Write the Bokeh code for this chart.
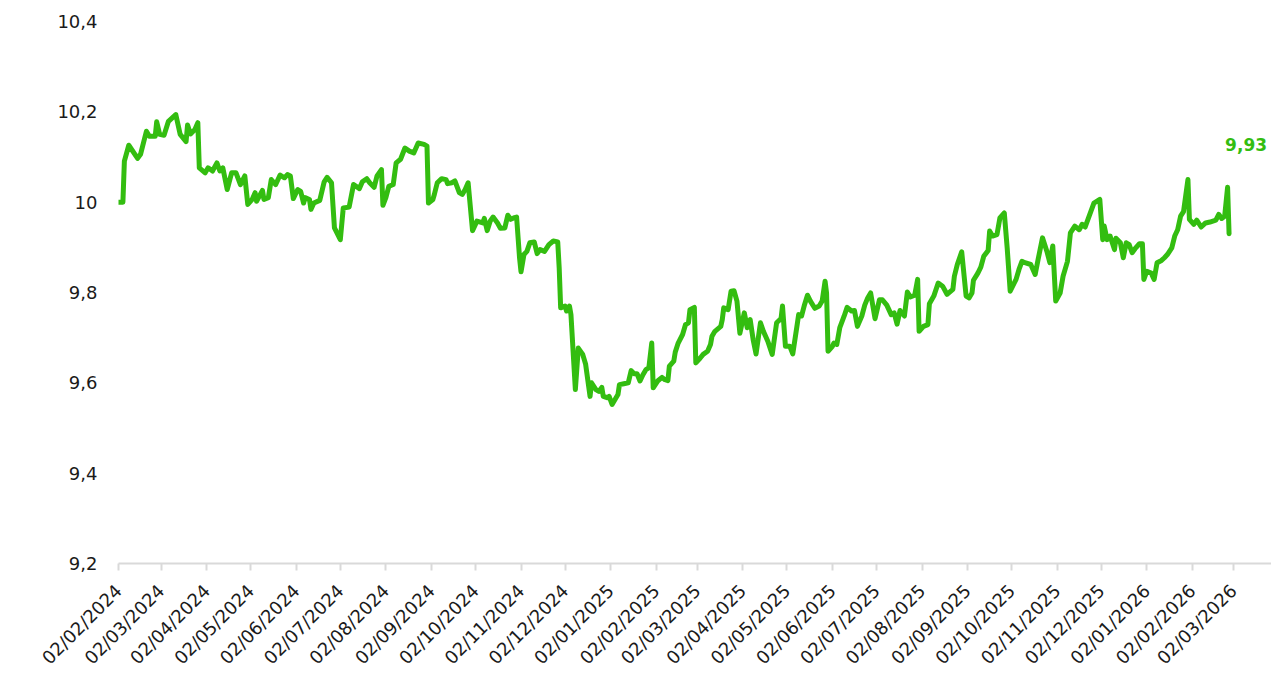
import math
from datetime import datetime, timedelta

from bokeh.plotting import figure
from bokeh.models import Range1d, FixedTicker
from bokeh.core.properties import value
from bokeh.embed import file_html
from bokeh.resources import INLINE

# ---------------- data ----------------
start_date = "2024-02-02"

day_offset = [
    0, 3, 4, 7, 13, 15, 19, 21, 25, 26, 28, 31, 34, 39, 42, 46, 47, 49, 52, 54,
    55, 59, 61, 64, 67, 69, 71, 74, 77, 80, 83, 86, 88, 91, 93, 94, 98, 99, 102, 104,
    107, 110, 113, 115, 117, 119, 122, 124, 126, 127, 130, 131, 133, 137, 140, 142, 145, 147, 151, 153,
    157, 160, 164, 166, 169, 171, 174, 176, 179, 180, 182, 184, 187, 189, 192, 195, 198, 201, 204, 208,
    210, 211, 214, 215, 217, 220, 223, 224, 227, 229, 232, 234, 236, 238, 241, 244, 248, 249, 251, 253,
    255, 258, 260, 263, 265, 267, 269, 271, 273, 274, 276, 278, 280, 283, 285, 287, 290, 293, 296, 299,
    300, 301, 304, 305, 307, 308, 311, 313, 316, 318, 321, 322, 325, 327, 329, 330, 333, 334, 336, 338,
    340, 341, 344, 347, 349, 351, 353, 355, 357, 359, 361, 363, 364, 367, 370, 372, 374, 375, 378, 379,
    381, 384, 386, 388, 389, 392, 393, 396, 398, 401, 403, 404, 406, 410, 411, 412, 415, 417, 419, 421,
    423, 426, 428, 430, 432, 434, 437, 439, 442, 445, 448, 451, 452, 454, 457, 459, 462, 463, 465, 467,
    469, 471, 474, 477, 479, 481, 482, 483, 486, 487, 489, 491, 494, 496, 499, 501, 503, 506, 508, 510,
    512, 515, 518, 520, 523, 526, 528, 530, 532, 535, 537, 539, 542, 544, 545, 548, 551, 552, 555, 558,
    561, 564, 568, 569, 571, 574, 577, 579, 581, 582, 585, 587, 589, 592, 593, 595, 598, 600, 603, 605,
    607, 611, 613, 615, 617, 621, 624, 626, 629, 632, 634, 636, 638, 641, 643, 646, 648, 651, 654, 656,
    658, 662, 664, 668, 670, 671, 673, 675, 678, 679, 682, 684, 686, 688, 690, 692, 695, 697, 698, 700,
    703, 705, 707, 710, 712, 714, 717, 719, 721, 723, 725, 728, 729, 732, 734, 737, 740, 743, 747, 749,
    751, 753, 755, 756,
]

nav = [
    10.000, 10.000, 10.091, 10.126, 10.097, 10.106, 10.157, 10.146, 10.146, 10.178, 10.150, 10.148, 10.179, 10.194, 10.150, 10.134, 10.171, 10.151, 10.161, 10.176,
    10.076, 10.065, 10.076, 10.069, 10.087, 10.069, 10.076, 10.028, 10.065, 10.065, 10.039, 10.058, 9.995, 10.006, 10.021, 10.002, 10.026, 10.006, 10.010, 10.050,
    10.039, 10.060, 10.054, 10.061, 10.058, 10.008, 10.028, 10.024, 9.998, 10.010, 10.006, 9.984, 9.998, 10.004, 10.045, 10.055, 10.043, 9.943, 9.917, 9.987,
    9.989, 10.039, 10.030, 10.045, 10.052, 10.043, 10.033, 10.058, 10.072, 9.993, 10.010, 10.035, 10.039, 10.087, 10.095, 10.120, 10.113, 10.109, 10.131, 10.128,
    10.124, 9.998, 10.006, 10.017, 10.043, 10.052, 10.050, 10.041, 10.043, 10.047, 10.021, 10.017, 10.028, 10.043, 9.937, 9.958, 9.954, 9.964, 9.937, 9.958,
    9.967, 9.954, 9.942, 9.943, 9.971, 9.962, 9.965, 9.967, 9.877, 9.846, 9.884, 9.891, 9.910, 9.912, 9.886, 9.895, 9.891, 9.906, 9.914, 9.912,
    9.854, 9.766, 9.770, 9.759, 9.770, 9.751, 9.585, 9.677, 9.663, 9.641, 9.570, 9.600, 9.585, 9.581, 9.590, 9.570, 9.567, 9.570, 9.552, 9.563,
    9.574, 9.596, 9.598, 9.600, 9.627, 9.620, 9.620, 9.604, 9.618, 9.629, 9.633, 9.688, 9.589, 9.604, 9.612, 9.607, 9.605, 9.637, 9.648, 9.668,
    9.688, 9.707, 9.729, 9.733, 9.762, 9.767, 9.644, 9.655, 9.663, 9.670, 9.685, 9.703, 9.714, 9.725, 9.740, 9.766, 9.762, 9.803, 9.804, 9.781,
    9.710, 9.755, 9.722, 9.740, 9.696, 9.664, 9.733, 9.714, 9.692, 9.663, 9.733, 9.742, 9.770, 9.681, 9.681, 9.664, 9.729, 9.751, 9.748, 9.773,
    9.794, 9.781, 9.765, 9.770, 9.781, 9.825, 9.799, 9.670, 9.681, 9.688, 9.685, 9.722, 9.748, 9.767, 9.759, 9.760, 9.725, 9.748, 9.772, 9.788,
    9.799, 9.742, 9.784, 9.784, 9.772, 9.751, 9.755, 9.730, 9.760, 9.748, 9.801, 9.790, 9.794, 9.829, 9.714, 9.725, 9.729, 9.775, 9.792, 9.821,
    9.814, 9.796, 9.807, 9.836, 9.862, 9.890, 9.792, 9.788, 9.799, 9.827, 9.843, 9.856, 9.880, 9.893, 9.936, 9.925, 9.928, 9.965, 9.976, 9.897,
    9.803, 9.829, 9.851, 9.869, 9.866, 9.862, 9.840, 9.873, 9.921, 9.891, 9.866, 9.903, 9.781, 9.799, 9.836, 9.869, 9.932, 9.947, 9.939, 9.951,
    9.945, 9.980, 9.998, 10.006, 9.917, 9.947, 9.917, 9.925, 9.895, 9.920, 9.910, 9.877, 9.910, 9.906, 9.888, 9.897, 9.908, 9.908, 9.829, 9.847,
    9.843, 9.829, 9.866, 9.871, 9.877, 9.884, 9.899, 9.925, 9.939, 9.969, 9.979, 10.050, 9.962, 9.951, 9.960, 9.945, 9.954, 9.956, 9.960, 9.973,
    9.964, 9.969, 10.033, 9.930,
]

x_tick_labels = [
    "02/02/2024", "02/03/2024", "02/04/2024", "02/05/2024", "02/06/2024", "02/07/2024",
    "02/08/2024", "02/09/2024", "02/10/2024", "02/11/2024", "02/12/2024", "02/01/2025",
    "02/02/2025", "02/03/2025", "02/04/2025", "02/05/2025", "02/06/2025", "02/07/2025",
    "02/08/2025", "02/09/2025", "02/10/2025", "02/11/2025", "02/12/2025", "02/01/2026",
    "02/02/2026", "02/03/2026",
]
y_ticks = [9.2, 9.4, 9.6, 9.8, 10.0, 10.2, 10.4]
y_tick_labels = ["9,2", "9,4", "9,6", "9,8", "10", "10,2", "10,4"]
last_label = "9,93"

# ---------------- styling ----------------
GREEN = "#33bd10"
TEXT = "#1a1a1a"
AXIS_GREY = "#d9d9d9"
FONT = "DejaVu Sans"

t0 = datetime.fromisoformat(start_date)
dates = [t0 + timedelta(days=d) for d in day_offset]


def to_ms(dt):
    return (dt - datetime(1970, 1, 1)).total_seconds() * 1000.0


tick_ms = [to_ms(datetime.strptime(s, "%d/%m/%Y")) for s in x_tick_labels]

FRAME_W = 1153
p = figure(
    x_axis_type="datetime",
    frame_width=FRAME_W,
    frame_height=542,
    min_border_left=118,
    min_border_right=0,
    min_border_top=21,
    min_border_bottom=0,
    x_range=Range1d(t0, t0 + timedelta(days=FRAME_W / 1.469)),
    y_range=Range1d(9.2, 10.4),
    output_backend="svg",
    toolbar_location=None,
)
p.outline_line_color = None
p.grid.visible = False
p.background_fill_color = "white"
p.border_fill_color = "white"

p.line(dates, nav, line_color=GREEN, line_width=5, line_join="round", line_cap="round")

p.text(
    x=[dates[-1]], y=[nav[-1]], text=[last_label],
    text_align="right", text_baseline="middle",
    x_offset=38, y_offset=-89,
    text_font=value(FONT), text_font_style="bold", text_font_size="17px",
    text_color=GREEN,
)

xa = p.xaxis[0]
xa.ticker = FixedTicker(ticks=tick_ms, minor_ticks=[])
xa.major_label_overrides = {t: lab for t, lab in zip(tick_ms, x_tick_labels)}
xa.axis_line_color = AXIS_GREY
xa.axis_line_width = 2
xa.major_tick_line_color = AXIS_GREY
xa.major_tick_line_width = 2
xa.major_tick_out = 7
xa.major_tick_in = 0
xa.minor_tick_line_color = None
xa.major_label_orientation = math.pi / 4
xa.major_label_standoff = 17
xa.major_label_text_font = FONT
xa.major_label_text_font_size = "18px"
xa.major_label_text_color = TEXT

ya = p.yaxis[0]
ya.ticker = FixedTicker(ticks=y_ticks, minor_ticks=[])
ya.major_label_overrides = {t: lab for t, lab in zip(y_ticks, y_tick_labels)}
ya.axis_line_color = None
ya.major_tick_line_color = None
ya.minor_tick_line_color = None
ya.major_tick_out = 0
ya.major_tick_in = 0
ya.major_label_standoff = 21
ya.major_label_text_font = FONT
ya.major_label_text_font_size = "18px"
ya.major_label_text_color = TEXT

open("out.html", "w").write(file_html(p, INLINE))
